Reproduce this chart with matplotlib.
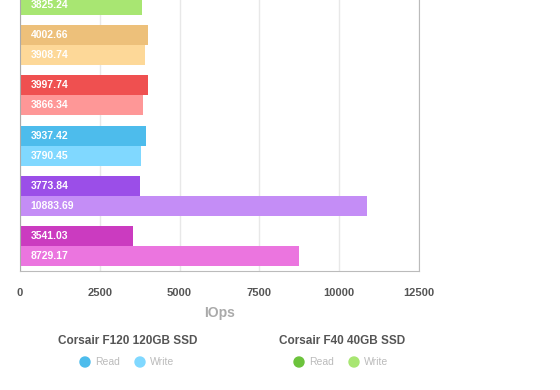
import matplotlib
matplotlib.use("Agg")
import matplotlib.pyplot as plt
from matplotlib.patches import Ellipse
import numpy as np

plt.rcParams['font.family'] = ['Liberation Sans', 'DejaVu Sans']

# one group per drive, top to bottom; first group's read bar is cut off in the source
read_iops = [3900.00, 4002.66, 3997.74, 3937.42, 3773.84, 3541.03]
write_iops = [3825.24, 3908.74, 3866.34, 3790.45, 10883.69, 8729.17]
read_colors = ['#6cc33c', '#edc07a', '#ef5050', '#4dbcec', '#9b4ee8', '#cb3bc0']
write_colors = ['#a8e672', '#fdd898', '#fe9797', '#80d8ff', '#c48df6', '#eb75df']
x_ticks = [0, 2500, 5000, 7500, 10000, 12500]

legend_groups = [
    ("Corsair F120 120GB SSD", '#4dbcec', '#80d8ff'),
    ("Corsair F40 40GB SSD", '#6cc33c', '#a8e672'),
]

fig = plt.figure(figsize=(5.6, 3.9), dpi=100)
ax = fig.add_axes([20 / 560, 119 / 390, 399 / 560, 301 / 390])

y = np.arange(len(read_iops))
ax.barh(y - 0.2, read_iops, height=0.4, color=read_colors, zorder=2)
ax.barh(y + 0.2, write_iops, height=0.4, color=write_colors, zorder=2)

for i in range(len(read_iops)):
    ax.text(330, y[i] - 0.2, f"{read_iops[i]:.2f}", color='white', va='center',
            ha='left', fontsize=7.5, fontweight='bold', zorder=3)
    ax.text(330, y[i] + 0.2, f"{write_iops[i]:.2f}", color='white', va='center',
            ha='left', fontsize=7.5, fontweight='bold', zorder=3)

ax.set_ylim(len(read_iops) - 0.5, -0.5)
ax.set_xlim(0, 12500)
ax.set_xticks(x_ticks)
ax.set_xticklabels([str(t) for t in x_ticks], fontsize=8, color='#555555',
                   fontweight='bold')
ax.set_yticks([])
ax.tick_params(axis='x', length=0, pad=12)
ax.grid(axis='x', color='#e8e8e8', linewidth=1, zorder=0)
for s in ['left', 'right', 'bottom', 'top']:
    ax.spines[s].set_color('#bbbbbb')
ax.spines['left'].set_color('#aaaaaa')
ax.set_xlabel("IOps", fontsize=10, color='#aaaaaa', fontweight='bold', labelpad=6)

# legend groups below the chart
centers = [128, 342]
for (name, c_read, c_write), cx in zip(legend_groups, centers):
    fig.text(cx / 560, 1 - 341 / 390, name, ha='center', va='center',
             fontsize=8.5, fontweight='bold', color='#555555')
    ly = 1 - 362 / 390
    fig.patches.append(Ellipse(((cx - 43) / 560, ly), 10 / 560, 10 / 390,
                               color=c_read, transform=fig.transFigure))
    fig.text((cx - 33) / 560, ly, "Read", ha='left', va='center', fontsize=7.5,
             color='#bbbbbb')
    fig.patches.append(Ellipse(((cx + 12) / 560, ly), 10 / 560, 10 / 390,
                               color=c_write, transform=fig.transFigure))
    fig.text((cx + 22) / 560, ly, "Write", ha='left', va='center', fontsize=7.5,
             color='#bbbbbb')

fig.savefig("out.png", dpi=100)
